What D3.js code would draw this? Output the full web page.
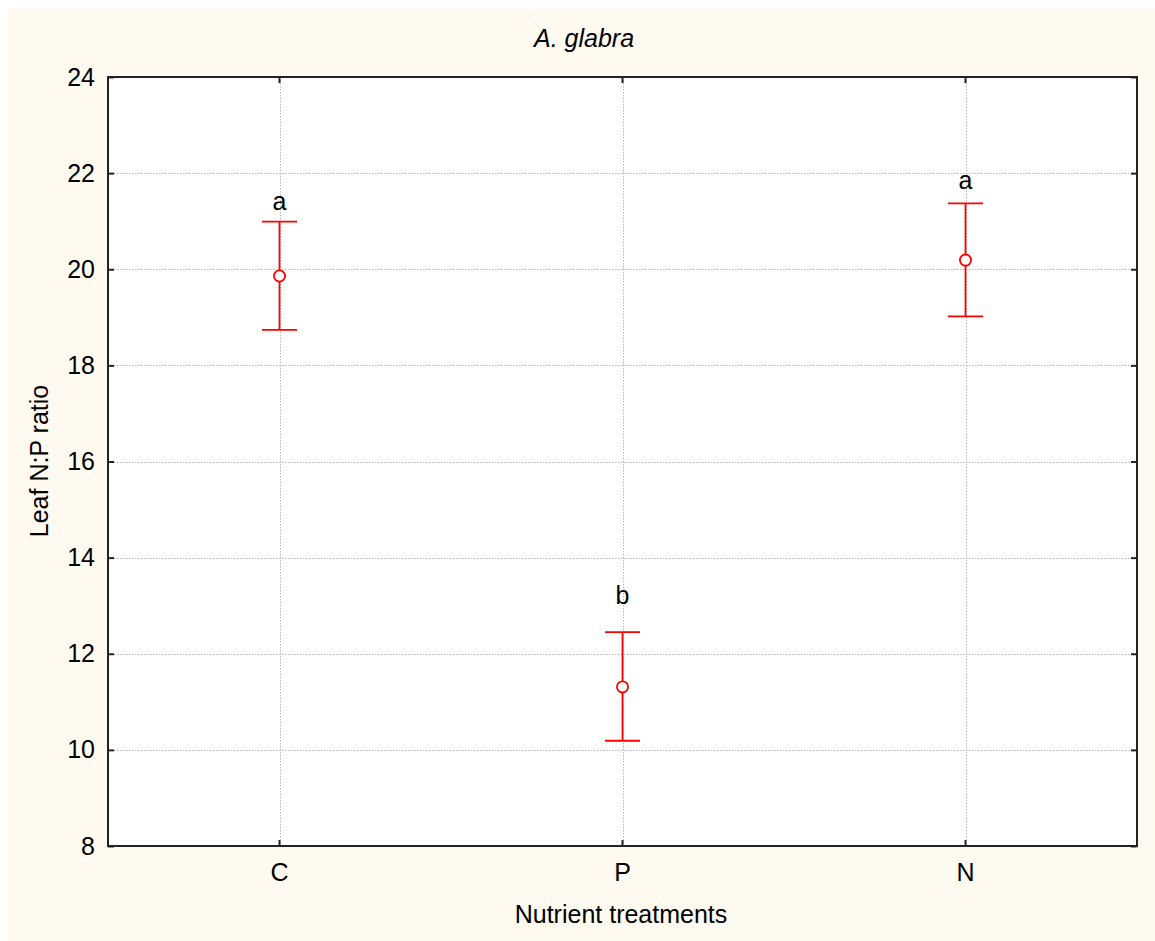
<!DOCTYPE html>
<html>
<head>
<meta charset="utf-8">
<script src="https://cdn.jsdelivr.net/npm/d3@7"></script>
<style>
  html, body { margin: 0; padding: 0; background: #ffffff; }
  svg { display: block; }
  text { font-family: "Liberation Sans", Arial, sans-serif; fill: #000; }
</style>
</head>
<body>
<svg id="chart" width="1155" height="941"></svg>
<script>
// ---- data ----
const categories = ["C", "P", "N"];
const means = [19.86, 11.31, 20.19];
const upper = [20.99, 12.45, 21.37];
const lower = [18.74, 10.19, 19.02];
const groupLetters = ["a", "b", "a"];
const letterY = [21.24, 13.04, 21.68];
const yTicks = [8, 10, 12, 14, 16, 18, 20, 22, 24];
const title = "A. glabra";
const xLabel = "Nutrient treatments";
const yLabel = "Leaf N:P ratio";

// ---- layout ----
const W = 1155, H = 941;
const plot = { left: 108, right: 1137, top: 77, bottom: 846 };
const svg = d3.select("#chart");

svg.append("rect").attr("x", 8).attr("y", 9).attr("width", W - 8).attr("height", H - 9)
  .attr("fill", "#fefaf0");
svg.append("rect").attr("x", plot.left).attr("y", plot.top)
  .attr("width", plot.right - plot.left).attr("height", plot.bottom - plot.top)
  .attr("fill", "#ffffff");

const x = d3.scaleBand().domain(categories).range([plot.left, plot.right]);
const xc = d => x(d) + x.bandwidth() / 2;
const y = d3.scaleLinear().domain([8, 24]).range([plot.bottom, plot.top]);

// gridlines
const grid = svg.append("g").attr("stroke", "#b8b8b8").attr("stroke-width", 1)
  .attr("stroke-dasharray", "1.5,1.5");
grid.selectAll("line.h").data(yTicks.filter(t => t > 8 && t < 24)).join("line")
  .attr("x1", plot.left).attr("x2", plot.right)
  .attr("y1", d => Math.round(y(d)) + 0.5).attr("y2", d => Math.round(y(d)) + 0.5);
grid.selectAll("line.v").data(categories).join("line")
  .attr("x1", d => Math.round(xc(d)) + 0.5).attr("x2", d => Math.round(xc(d)) + 0.5)
  .attr("y1", plot.top).attr("y2", plot.bottom);

// axes (ticks inward)
const fontSize = 25;
const axL = svg.append("g").attr("transform", `translate(${plot.left},0)`)
  .call(d3.axisLeft(y).tickValues(yTicks).tickSize(-6).tickPadding(13).tickFormat(d3.format("d")));
const axR = svg.append("g").attr("transform", `translate(${plot.right},0)`)
  .call(d3.axisRight(y).tickValues(yTicks).tickSize(-6).tickFormat(""));
const axB = svg.append("g").attr("transform", `translate(0,${plot.bottom})`)
  .call(d3.axisBottom(x).tickSize(-6).tickPadding(17));
const axT = svg.append("g").attr("transform", `translate(0,${plot.top})`)
  .call(d3.axisTop(x).tickSize(-6).tickFormat(""));
[axL, axR, axB, axT].forEach(a => {
  a.select(".domain").remove();
  a.selectAll(".tick line").attr("stroke", "#222").attr("stroke-width", 2);
  a.selectAll("text").attr("font-size", fontSize)
    .attr("font-family", '"Liberation Sans", Arial, sans-serif').attr("fill", "#000");
});

// frame
svg.append("rect").attr("x", plot.left).attr("y", plot.top)
  .attr("width", plot.right - plot.left).attr("height", plot.bottom - plot.top)
  .attr("fill", "none").attr("stroke", "#222").attr("stroke-width", 2);

// error bars
const red = "#ff0000";
const cap = 17.5;
const g = svg.append("g").attr("stroke", red).attr("stroke-width", 1.8).attr("fill", "none");
const idx = d3.range(categories.length);
g.selectAll("line.stem").data(idx).join("line")
  .attr("x1", i => xc(categories[i])).attr("x2", i => xc(categories[i]))
  .attr("y1", i => y(upper[i])).attr("y2", i => y(lower[i]));
g.selectAll("line.capU").data(idx).join("line")
  .attr("x1", i => xc(categories[i]) - cap).attr("x2", i => xc(categories[i]) + cap)
  .attr("y1", i => y(upper[i])).attr("y2", i => y(upper[i]));
g.selectAll("line.capL").data(idx).join("line")
  .attr("x1", i => xc(categories[i]) - cap).attr("x2", i => xc(categories[i]) + cap)
  .attr("y1", i => y(lower[i])).attr("y2", i => y(lower[i]));
g.selectAll("circle").data(idx).join("circle")
  .attr("cx", i => xc(categories[i])).attr("cy", i => y(means[i]))
  .attr("r", 5.6).attr("fill", "#ffffff");

// group letters
svg.selectAll("text.letter").data(idx).join("text").attr("class", "letter")
  .attr("x", i => xc(categories[i])).attr("y", i => y(letterY[i]))
  .attr("text-anchor", "middle").attr("font-size", fontSize).text(i => groupLetters[i]);

// titles
svg.append("text").attr("x", 584).attr("y", 47).attr("text-anchor", "middle")
  .attr("font-size", fontSize).attr("font-style", "italic").text(title);
svg.append("text").attr("x", 621).attr("y", 923).attr("text-anchor", "middle")
  .attr("font-size", fontSize).text(xLabel);
svg.append("text").attr("transform", "translate(48,461) rotate(-90)")
  .attr("text-anchor", "middle").attr("font-size", fontSize).text(yLabel);
</script>
</body>
</html>
